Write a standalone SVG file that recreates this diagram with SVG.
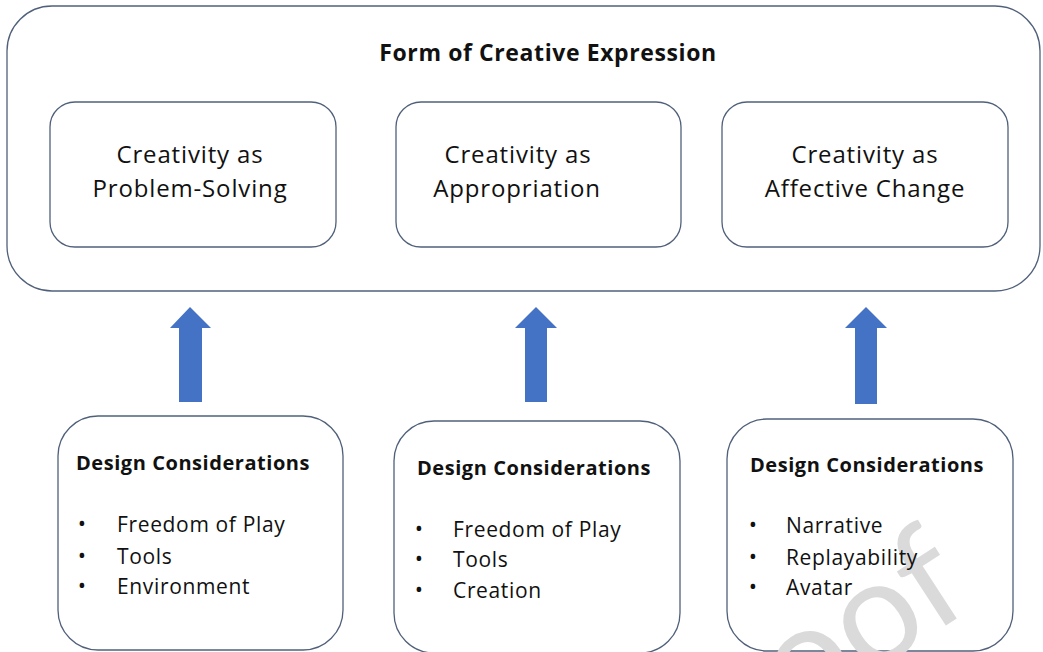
<svg xmlns="http://www.w3.org/2000/svg" width="1043" height="652" viewBox="0 0 1043 652">
<style>
.box{fill:#ffffff;stroke:#50607a;stroke-width:1.3}
.t{font-family:"Open Sans","Liberation Sans",sans-serif;fill:#111111}
.title{font-size:23px;font-weight:bold;text-anchor:middle;letter-spacing:0.6px}
.cr{font-size:24px;text-anchor:middle;letter-spacing:0.85px}
.dh{font-size:20px;font-weight:bold;letter-spacing:0.55px}
.it{font-size:21px;letter-spacing:0.65px}
.bu{font-size:22px;text-anchor:middle}
.arrow{fill:#4472c4}
.wm{font-family:Lato,"Liberation Sans",sans-serif;font-size:145px;fill:#dadada}
</style>
<rect width="1043" height="652" fill="#ffffff"/>
<g id="outer">
<rect class="box" x="7" y="6" width="1033" height="285" rx="45" ry="45"/>
<text class="t title" x="548" y="61">Form of Creative Expression</text>
</g>
<g id="ps">
<rect class="box" x="50" y="102" width="286" height="145" rx="25" ry="25"/>
<text class="t cr" x="190" y="163">Creativity as</text>
<text class="t cr" x="190" y="197">Problem-Solving</text>
</g>
<g id="ap">
<rect class="box" x="396" y="102" width="285" height="145" rx="25" ry="25"/>
<text class="t cr" x="518" y="163">Creativity as</text>
<text class="t cr" x="517" y="197">Appropriation</text>
</g>
<g id="ac">
<rect class="box" x="722" y="102" width="286" height="145" rx="25" ry="25"/>
<text class="t cr" x="865" y="163">Creativity as</text>
<text class="t cr" x="865" y="197">Affective Change</text>
</g>
<g id="connectors">
<path class="arrow" d="M190,307 L211,328 L202,328 L202,402 L179,402 L179,328 L170,328 Z"/>
<path class="arrow" d="M536,307 L557,328 L547,328 L547,402 L525,402 L525,328 L515,328 Z"/>
<path class="arrow" d="M866,307 L887,328 L877,328 L877,404 L855,404 L855,328 L845,328 Z"/>
</g>
<g id="dc1">
<rect class="box" x="58" y="416" width="285" height="234" rx="40" ry="40"/>
<text class="t dh" x="76" y="470">Design Considerations</text>
<text class="t bu" x="82" y="531">•</text>
<text class="t it" x="117" y="532">Freedom of Play</text>
<text class="t bu" x="82" y="563">•</text>
<text class="t it" x="117" y="564">Tools</text>
<text class="t bu" x="82" y="593">•</text>
<text class="t it" x="117" y="594">Environment</text>
</g>
<g id="dc2">
<rect class="box" x="394" y="421" width="286" height="232" rx="40" ry="40"/>
<text class="t dh" x="417" y="475">Design Considerations</text>
<text class="t bu" x="419" y="536">•</text>
<text class="t it" x="453" y="537">Freedom of Play</text>
<text class="t bu" x="419" y="566">•</text>
<text class="t it" x="453" y="567">Tools</text>
<text class="t bu" x="419" y="597">•</text>
<text class="t it" x="453" y="598">Creation</text>
</g>
<g id="dc3">
<rect class="box" x="727" y="419" width="286" height="232" rx="40" ry="40"/>
<text class="wm" transform="translate(976,606) rotate(-33)" text-anchor="end">proof</text>
<text class="t dh" x="750" y="472">Design Considerations</text>
<text class="t bu" x="753" y="532">•</text>
<text class="t it" x="786" y="533">Narrative</text>
<text class="t bu" x="753" y="564">•</text>
<text class="t it" x="786" y="565">Replayability</text>
<text class="t bu" x="753" y="594">•</text>
<text class="t it" x="786" y="595">Avatar</text>
</g>
</svg>
